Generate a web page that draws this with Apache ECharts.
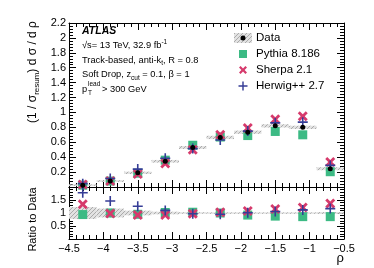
<!DOCTYPE html>
<html><head><meta charset="utf-8">
<script src="https://cdn.jsdelivr.net/npm/echarts@6/dist/echarts.min.js"></script>
<style>html,body{margin:0;padding:0;background:#fff}#c{width:374px;height:268px}</style>
</head><body><div id="c"></div>
<script>
// ---- data ----
const rhoCenters   = [-4.3, -3.9, -3.5, -3.1, -2.7, -2.3, -1.9, -1.5, -1.1, -0.7];
const binHalfWidth = 0.2;
const dataValues   = [0.025, 0.08, 0.19, 0.345, 0.53, 0.665, 0.735, 0.82, 0.80, 0.245];
const dataUnc      = [0.010, 0.012, 0.016, 0.018, 0.020, 0.022, 0.022, 0.022, 0.022, 0.020];
const pythiaValues = [0.025, 0.08, 0.185, 0.36, 0.56, 0.67, 0.69, 0.745, 0.70, 0.205];
const sherpaValues = [0.035, 0.08, 0.175, 0.315, 0.50, 0.70, 0.79, 0.91, 0.95, 0.335];
const herwigValues = [0.045, 0.115, 0.24, 0.385, 0.515, 0.63, 0.75, 0.86, 0.87, 0.29];
const ratioUnc     = [0.23, 0.17, 0.09, 0.05, 0.03, 0.025, 0.025, 0.025, 0.025, 0.035];
const pythiaRatio  = [0.94, 1.00, 0.95, 1.02, 1.03, 1.00, 0.92, 0.88, 0.86, 0.86];
const sherpaRatio  = [1.34, 0.98, 0.92, 0.92, 0.97, 1.03, 1.08, 1.15, 1.21, 1.37];
const herwigRatio  = [1.78, 1.46, 1.26, 1.10, 0.97, 0.95, 1.01, 1.06, 1.12, 1.17];
const legendLabels = ['Data', 'Pythia 8.186', 'Sherpa 2.1', 'Herwig++ 2.7'];

// ---- styles ----
const FONT = '"Liberation Sans", Arial, Helvetica, sans-serif';
const C_PY = '#3cba84', C_SH = '#d63a6c', C_HW = '#363d96';
const X_PTS = [[0,2],[2,0],[5,3],[8,0],[10,2],[7,5],[10,8],[8,10],[5,7],[2,10],[0,8],[3,5]];
const PLUS_PTS = [[4.2,0],[5.8,0],[5.8,4.2],[10,4.2],[10,5.8],[5.8,5.8],[5.8,10],[4.2,10],[4.2,5.8],[0,5.8],[0,4.2],[4.2,4.2]];
const toPath = p => 'path://M' + p.map(q => q.join(',')).join('L') + 'Z';
const X_PATH = toPath(X_PTS), PLUS_PATH = toPath(PLUS_PTS);

const pc = document.createElement('canvas'); pc.width = 4; pc.height = 4;
const g = pc.getContext('2d');
g.fillStyle = '#e2e2e2'; g.fillRect(0, 0, 4, 4);
g.fillStyle = '#ababab';
for (let i = 0; i < 4; i++) g.fillRect(i, 3 - i, 1, 1);
const hatch = { image: pc, repeat: 'repeat' };

const pts = vals => rhoCenters.map((x, i) => [x, vals[i]]);
const mainBand = rhoCenters.map((x, i) => [x, dataValues[i] - dataUnc[i], dataValues[i] + dataUnc[i], binHalfWidth]);
const ratioBand = rhoCenters.map((x, i) => [x, 1 - ratioUnc[i], 1 + ratioUnc[i], binHalfWidth]);

function bandRender(params, api) {
  const x = api.value(0), lo = api.value(1), hi = api.value(2), hw = api.value(3);
  const p1 = api.coord([x - hw, hi]);
  const p2 = api.coord([x + hw, lo]);
  const cs = params.coordSys;
  const r = echarts.graphic.clipRectByRect(
    { x: p1[0], y: p1[1], width: p2[0] - p1[0], height: Math.max(1.5, p2[1] - p1[1]) },
    { x: cs.x, y: cs.y, width: cs.width, height: cs.height });
  return r ? { type: 'rect', shape: r, style: { fill: hatch } } : null;
}

const tick = { show: true, inside: true, length: 7, lineStyle: { color: '#000', width: 1 } };
const minor = { show: true, splitNumber: 5, length: 4, lineStyle: { color: '#000', width: 1 } };
const line = { show: true, onZero: false, lineStyle: { color: '#000', width: 1 } };
const lab = { color: '#000', fontSize: 11, fontFamily: FONT };

function xAx(gi, pos, showLab) {
  return { type: 'value', gridIndex: gi, position: pos, min: -4.5, max: -0.5, interval: 0.5,
    axisLine: line, axisTick: tick, minorTick: minor, splitLine: { show: false },
    axisLabel: Object.assign({ show: showLab, margin: 4,
      formatter: v => String(v).replace('-', '\u2212') }, lab) };
}
function yAx(gi, pos, min, max, interval, showLab, hide) {
  return { type: 'value', gridIndex: gi, position: pos, min, max, interval,
    axisLine: line, axisTick: tick, minorTick: minor, splitLine: { show: false },
    axisLabel: Object.assign({ show: showLab, margin: 3,
      formatter: v => hide.some(h => Math.abs(h - v) < 1e-9) ? '' : String(+v.toFixed(2)) }, lab) };
}

const sc = (name, xi, yi, data, symbol, size, color, z) => ({
  type: 'scatter', name, xAxisIndex: xi, yAxisIndex: yi, data, symbol, symbolSize: size,
  itemStyle: { color, opacity: 1 }, z, silent: true });

const txt = (x, y, rich, text) => ({ type: 'text', x, y,
  style: { text, fill: '#000', font: '9.5px ' + FONT, verticalAlign: 'middle', rich } });

const richSmall = {
  n: { fontSize: 9.3, fontFamily: FONT, lineHeight: 14, verticalAlign: 'middle' },
  sub: { fontSize: 6.5, fontFamily: FONT, lineHeight: 6, verticalAlign: 'bottom' },
  sup: { fontSize: 6.5, fontFamily: FONT, lineHeight: 6, verticalAlign: 'top' }
};

const legendY = [38, 54, 70, 86];
const legendGraphics = [
  { type: 'rect', shape: { x: 234, y: legendY[0] - 5, width: 18, height: 10 }, style: { fill: hatch } },
  { type: 'circle', shape: { cx: 243, cy: legendY[0], r: 2.5 }, style: { fill: '#000' } },
  { type: 'rect', shape: { x: 239, y: legendY[1] - 4, width: 8, height: 8 }, style: { fill: C_PY } },
  { type: 'polygon', shape: { points: X_PTS }, x: 239, y: legendY[2] - 4, scaleX: 0.8, scaleY: 0.8, style: { fill: C_SH } },
  { type: 'polygon', shape: { points: PLUS_PTS }, x: 238.5, y: legendY[3] - 4.5, scaleX: 0.9, scaleY: 0.9, style: { fill: C_HW } }
].concat(legendLabels.map((t, i) => ({ type: 'text', x: 256, y: legendY[i],
  style: { text: t, fill: '#000', font: '11.5px ' + FONT, verticalAlign: 'middle' } })));

const option = {
  animation: false,
  grid: [
    { left: 69, top: 23, width: 275, height: 164, outerBoundsMode: 'none' },
    { left: 69, top: 187, width: 275, height: 52, outerBoundsMode: 'none' }
  ],
  xAxis: [xAx(0, 'bottom', false), xAx(0, 'top', false), xAx(1, 'bottom', true), xAx(1, 'top', false)],
  yAxis: [yAx(0, 'left', 0, 2.2, 0.2, true, [0]), yAx(0, 'right', 0, 2.2, 0.2, false, []),
          yAx(1, 'left', 0, 2, 0.5, true, [0, 2]), yAx(1, 'right', 0, 2, 0.5, false, [])],
  series: [
    { type: 'custom', name: 'Data band', xAxisIndex: 0, yAxisIndex: 0, renderItem: bandRender, data: mainBand, z: 1, silent: true,
      encode: { x: 0, y: [1, 2] } },
    sc('Pythia 8.186', 0, 0, pts(pythiaValues), 'rect', 9, C_PY, 2),
    sc('Sherpa 2.1', 0, 0, pts(sherpaValues), X_PATH, 10, C_SH, 3),
    sc('Herwig++ 2.7', 0, 0, pts(herwigValues), PLUS_PATH, 10, C_HW, 4),
    sc('Data', 0, 0, pts(dataValues), 'circle', 5, '#000', 5),
    { type: 'custom', name: 'Ratio band', xAxisIndex: 2, yAxisIndex: 2, renderItem: bandRender, data: ratioBand, z: 1, silent: true,
      encode: { x: 0, y: [1, 2] } },
    sc('Pythia ratio', 2, 2, pts(pythiaRatio), 'rect', 9, C_PY, 2),
    sc('Sherpa ratio', 2, 2, pts(sherpaRatio), X_PATH, 10, C_SH, 3),
    sc('Herwig ratio', 2, 2, pts(herwigRatio), PLUS_PATH, 10, C_HW, 4)
  ],
  graphic: [
    { type: 'text', x: 82, y: 31.5, style: { text: 'ATLAS', fill: '#000', font: 'italic bold 10.5px ' + FONT, verticalAlign: 'middle' } },
    txt(82, 45.5, richSmall, '{n|\u221As= 13 TeV, 32.9 fb}{sup|-1}'),
    txt(82, 60, richSmall, '{n|Track-based, anti-k}{sub|t}{n|, R = 0.8}'),
    txt(82, 74.5, richSmall, '{n|Soft Drop, z}{sub|cut}{n| = 0.1, \u03B2 = 1}'),
    txt(82, 89, richSmall, '{n|p}'),
    { type: 'text', x: 88, y: 84, style: { text: 'lead', fill: '#000', font: '6.5px ' + FONT, verticalAlign: 'middle' } },
    { type: 'text', x: 88, y: 93, style: { text: 'T', fill: '#000', font: '6.5px ' + FONT, verticalAlign: 'middle' } },
    txt(102, 89, richSmall, '{n|> 300 GeV}'),
    { type: 'text', x: 33, y: 72, rotation: Math.PI / 2,
      style: { text: '{n|(1 / \u03C3}{s|resum}{n|) d \u03C3 / d \u03C1}', fill: '#000', align: 'center', verticalAlign: 'middle',
        rich: { n: { fontSize: 12, fontFamily: FONT, lineHeight: 16, verticalAlign: 'middle' },
                s: { fontSize: 8, fontFamily: FONT, lineHeight: 8, verticalAlign: 'bottom' } } } },
    { type: 'text', x: 33, y: 219.5, rotation: Math.PI / 2,
      style: { text: 'Ratio to Data', fill: '#000', font: '11px ' + FONT, align: 'center', verticalAlign: 'middle' } },
    { type: 'text', x: 344, y: 258, style: { text: '\u03C1', fill: '#000', font: '13px ' + FONT, align: 'right', verticalAlign: 'middle' } }
  ].concat(legendGraphics)
};

const chart = echarts.init(document.getElementById('c'), null, { renderer: 'canvas' });
chart.setOption(option);
</script>
</body></html>
